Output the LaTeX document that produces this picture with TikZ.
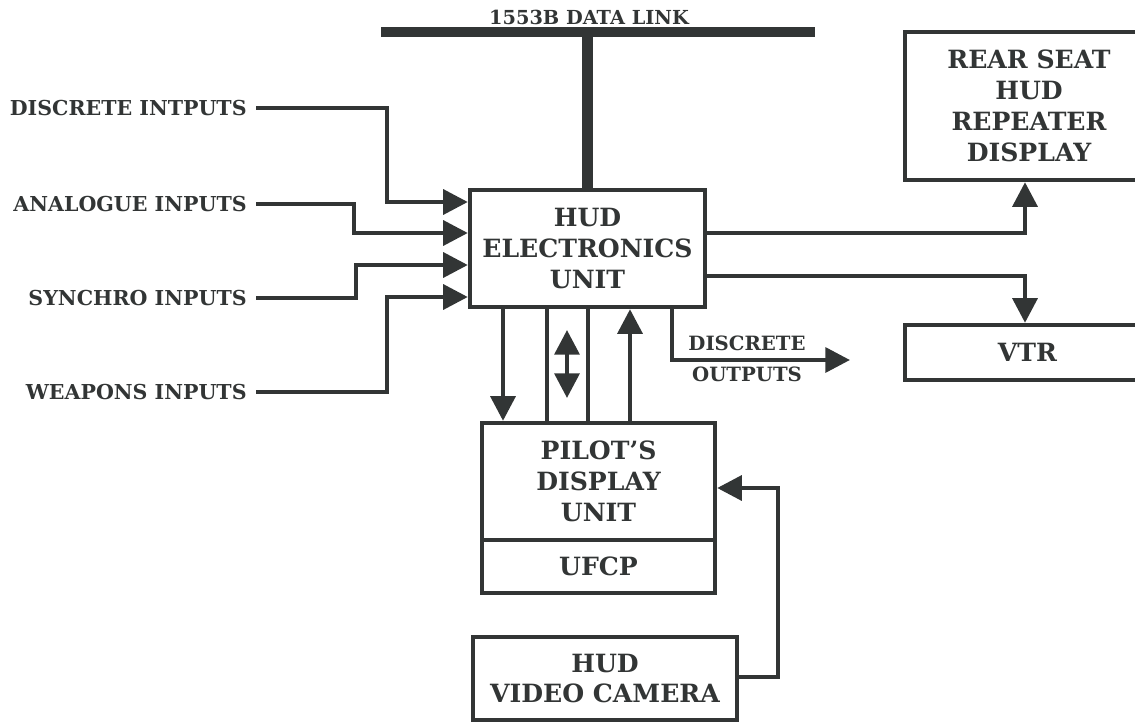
\documentclass[tikz,border=0pt]{standalone}
\usepackage{fontspec}
\setmainfont{DejaVu Serif}
\usetikzlibrary{arrows.meta}

\definecolor{ink}{RGB}{50,53,53}
\newcommand{\boxfont}{\fontsize{14.3}{17.6}\selectfont\bfseries}
\newcommand{\labfont}{\fontsize{11.7}{18}\selectfont\bfseries}

\tikzset{
  sig/.style={draw=ink, line width=2.5pt},
  sigarrow/.style={sig, -{Triangle[length=14pt,width=14pt]}},
  bus/.style={draw=ink, line width=5.8pt},
}

\begin{document}
\begin{tikzpicture}[x=0.02cm, y=-0.02cm]
      \useasboundingbox (0,0) rectangle (1135,723);

      \begin{scope}[every node/.style={draw=ink, line width=2.5pt, text=ink, align=center, font=\boxfont, inner sep=0pt}]
        \node[minimum width=4.7cm,  minimum height=2.34cm] (eu)   at (587.5,248.5) {HUD\\ELECTRONICS\\UNIT};
        \node[minimum width=4.96cm, minimum height=2.96cm] (rear) at (1029,106)    {REAR SEAT\\HUD\\REPEATER\\DISPLAY};
        \node[minimum width=4.9cm,  minimum height=1.1cm]  (vtr)  at (1027.5,352.5) {VTR};
        \node[minimum width=4.66cm, minimum height=2.34cm] (pdu)  at (598.5,481.5) {PILOT'S\\DISPLAY\\UNIT};
        \node[minimum width=4.66cm, minimum height=1.06cm] (ufcp) at (598.5,566.5) {UFCP};
        \node[minimum width=5.28cm, minimum height=1.66cm] (cam)  at (605,678.5)   {HUD\\VIDEO CAMERA};
      \end{scope}

      \begin{scope}[every node/.style={text=ink, font=\labfont, inner sep=0pt}]
        \node[anchor=east] (din)  at (247,108) {DISCRETE INTPUTS};
        \node[anchor=east] (ain)  at (247,204) {ANALOGUE INPUTS};
        \node[anchor=east] (sin)  at (247,298) {SYNCHRO INPUTS};
        \node[anchor=east] (win)  at (247,392) {WEAPONS INPUTS};
        \node[font=\fontsize{11}{14}\selectfont\bfseries] (link) at (589,17) {1553B DATA LINK};
        \node[align=center, font=\fontsize{11.2}{18}\selectfont\bfseries] (douts) at (747,359) {DISCRETE\\OUTPUTS};
      \end{scope}

      % data link bus
      \coordinate (linkw) at (381,32);
      \coordinate (linke) at (815,32);
      \draw[bus] (linkw) -- (linke);
      \draw[bus] (eu.north) -- (eu.north |- linkw);

      % inputs
      \draw[sigarrow] ([xshift=0.18cm]din.east) -| (387,202) -- (eu.west |- 0,202);
      \draw[sigarrow] ([xshift=0.18cm]ain.east) -| (354,233) -- (eu.west |- 0,233);
      \draw[sigarrow] ([xshift=0.18cm]sin.east) -| (356,265) -- (eu.west |- 0,265);
      \draw[sigarrow] ([xshift=0.18cm]win.east) -| (387,297) -- (eu.west |- 0,297);

      % outputs to rear seat and vtr
      \draw[sigarrow] (eu.east |- 0,233) -| (rear.south -| 1025,0);
      \draw[sigarrow] (eu.east |- 0,276) -| (vtr.north -| 1025,0);

      % eu to pilot's display unit
      \draw[sigarrow] (eu.south -| 503,0) -- (pdu.north -| 503,0);
      \draw[sig] (eu.south -| 547,0) -- (pdu.north -| 547,0);
      \draw[sig] (eu.south -| 588,0) -- (pdu.north -| 588,0);
      \draw[sigarrow] (pdu.north -| 630,0) -- (eu.south -| 630,0);
      \coordinate (busup) at (567,330);
      \coordinate (busdn) at (567,398);
      \draw[sig, {Triangle[length=14pt,width=14pt]}-{Triangle[length=14pt,width=14pt]}] (busup) -- (busdn);

      % discrete outputs
      \coordinate (doutend) at (850,360);
      \draw[sigarrow] (eu.south -| 672,0) |- (doutend);

      % camera
      \draw[sigarrow] (cam.east |- 0,677) -| (778,488) -- (pdu.east |- 0,488);

    \end{tikzpicture}
\end{document}
